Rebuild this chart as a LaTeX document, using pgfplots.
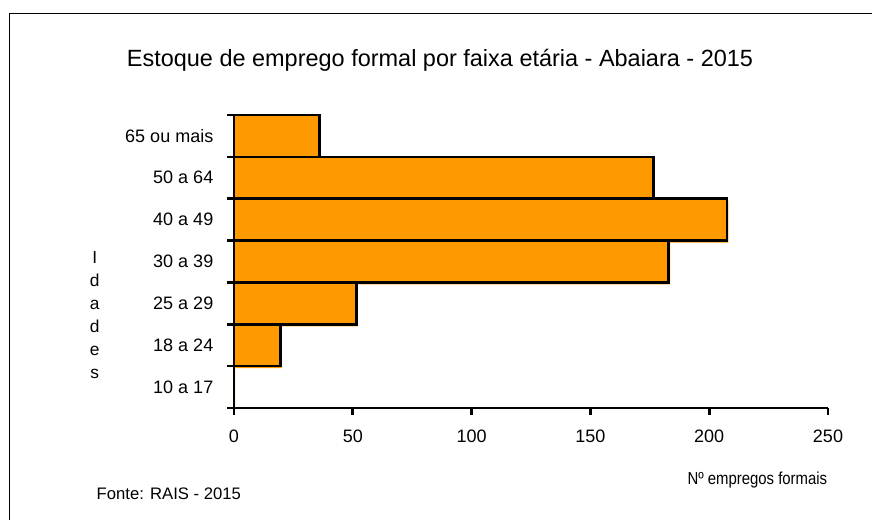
\documentclass[border=0pt]{standalone}
\usepackage{graphicx}
\usepackage{pgfplots}
\pgfplotsset{compat=1.18}
\usepackage{fontspec}
\setmainfont{Liberation Sans}
\definecolor{barorange}{HTML}{FF9900}
\begin{document}
\begin{tikzpicture}
\path[use as bounding box] (0,0) rectangle (654pt,-390pt);
% frame
\draw[line width=0.8pt] (7.2pt,-392pt) -- (7.2pt,-9.9pt) -- (656pt,-9.9pt);
\begin{axis}[
  at={(175.5pt,-306pt)}, anchor=south west,
  scale only axis, width=445.5pt, height=219.75pt,
  xmin=0, xmax=250, ymin=-0.5, ymax=6.5,
  axis x line*=bottom, axis y line*=left,
  axis line style={line width=2.2pt, -},
  xtick={0,50,...,250},
  ytick={0,...,6},
  yticklabels={10 a 17,18 a 24,25 a 29,30 a 39,40 a 49,50 a 64,65 ou mais},
  minor ytick={-0.5,0.5,...,6.5},
  major y tick style={draw=none},
  minor y tick style={line width=2pt, black},
  x tick style={line width=2pt, black},
  tick align=outside,
  major tick length=5pt, minor tick length=5pt,
  /pgf/number format/assume math mode=true,
  tick label style={font=\fontsize{13.5}{15}\selectfont},
  xticklabel style={yshift=-8pt},
  yticklabel style={xshift=-7pt},
  xbar, bar width=1, bar shift=0pt,
  clip=false,
]
\addplot[fill=barorange, draw=none, xshift=1pt, yshift=-1.5pt] coordinates {
(0,0) (19.5,1) (51.5,2) (183,3) (207.5,4) (176.5,5) (36,6)};
\addplot[fill=barorange, draw=black, line width=2pt] coordinates {
(0,0) (19.5,1) (51.5,2) (183,3) (207.5,4) (176.5,5) (36,6)};
\end{axis}
\node[font=\fontsize{17.6}{20}\selectfont] at (330pt,-45pt) {Estoque de emprego formal por faixa etária - Abaiara - 2015};
\node[font=\fontsize{13}{17.25}\selectfont, align=center] at (71pt,-236pt) {I\\d\\a\\d\\e\\s};
\node[font=\fontsize{13}{15}\selectfont] at (568pt,-360pt) {\scalebox{0.86}[1]{Nº empregos formais}};
\node[font=\fontsize{12.5}{14}\selectfont, anchor=west] at (69pt,-370pt) {Fonte: RAIS - 2015};
\end{tikzpicture}
\end{document}
